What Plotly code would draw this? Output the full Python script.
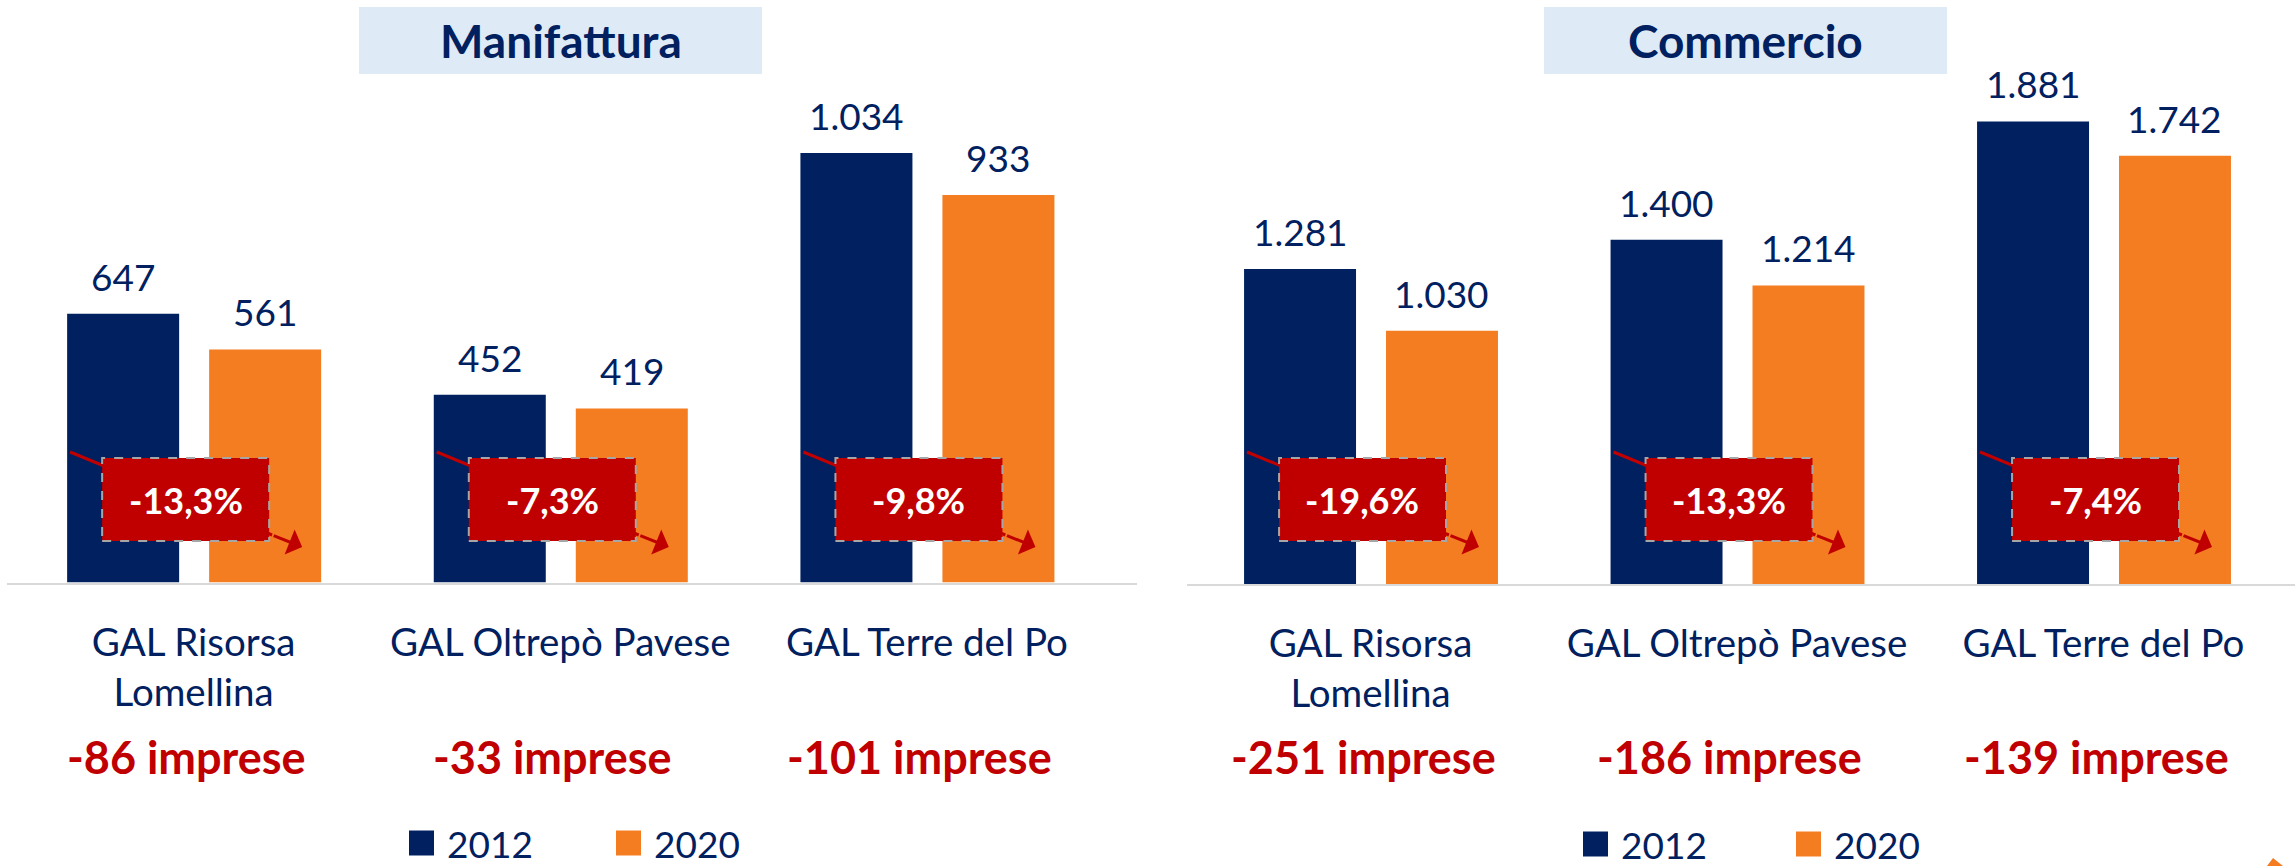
import plotly.graph_objects as go

W, H = 2295, 866

categories = ["GAL Risorsa<br>Lomellina", "GAL Oltrepò Pavese", "GAL Terre del Po"]
years = ["2012", "2020"]
manifattura_2012 = [647, 452, 1034]
manifattura_2020 = [561, 419, 933]
commercio_2012 = [1281, 1400, 1881]
commercio_2020 = [1030, 1214, 1742]
panel_titles = ["Manifattura", "Commercio"]

NAVY = "#002060"
ORANGE = "#F47D22"
RED = "#C00000"
FONT = "Lato, Source Sans Pro, sans-serif"


def px(p):
    return p / W


def py(p):
    return 1 - p / H


def fmt_thousands(v):
    return f"{v:,}".replace(",", ".")


fig = go.Figure()

BAR_W = 0.3055
OFFS = [-0.345, 0.0423]
colors = [NAVY, ORANGE]

panels = [
    dict(s1=manifattura_2012, s2=manifattura_2020, xa="x", ya="y",
         xdom=[px(7), px(1137)], xr=[-0.509, 2.573], base=582.5, ppu=0.4154,
         title_box=(359, 762), legend=dict(y=843, sq=[409, 616])),
    dict(s1=commercio_2012, s2=commercio_2020, xa="x2", ya="y2",
         xdom=[px(1187), 1.0], xr=[-0.5007, 2.5225], base=584, ppu=0.2459,
         title_box=(1544, 1947), legend=dict(y=844, sq=[1583, 1796])),
]

shapes = []
annotations = []

for pi, p in enumerate(panels):
    series = [p["s1"], p["s2"]]
    for si, vals in enumerate(series):
        fig.add_trace(go.Bar(
            x=categories, y=vals, name=years[si],
            xaxis=p["xa"], yaxis=p["ya"],
            marker=dict(color=colors[si], line=dict(width=0)),
            width=BAR_W, offset=OFFS[si], showlegend=False,
            hoverinfo="x+y",
        ))
        for i, v in enumerate(vals):
            annotations.append(dict(
                x=i + OFFS[si] + BAR_W / 2, y=v, xref=p["xa"], yref=p["ya"],
                text=fmt_thousands(v), showarrow=False, yanchor="bottom",
                xanchor="center", yshift=13,
                font=dict(family=FONT, size=37, color=NAVY),
            ))
    # percentage boxes and arrows
    for i in range(3):
        a, b = series[0][i], series[1][i]
        pct = (b - a) / a * 100
        pct_txt = f"{pct:.1f}%".replace(".", ",")
        shapes.append(dict(
            type="line", xref=p["xa"], yref="paper",
            x0=i - 0.337, y0=py(452), x1=i + 0.214, y1=py(535),
            line=dict(color=RED, width=3), layer="above",
        ))
        shapes.append(dict(
            type="rect", xref=p["xa"], yref="paper",
            x0=i - 0.2495, x1=i + 0.206, y0=py(541), y1=py(458),
            fillcolor=RED, line=dict(color="#A6A6A6", width=2, dash="dash"),
            layer="above",
        ))
        annotations.append(dict(
            x=i - 0.022, y=py(499.5), xref=p["xa"], yref="paper",
            xanchor="center", yanchor="middle",
            text=f"<b>{pct_txt}</b>", showarrow=False,
            font=dict(family=FONT, size=36, color="white"),
        ))
        annotations.append(dict(
            x=i + 0.296, y=py(547), xref=p["xa"], yref="paper",
            text="", showarrow=True, ax=-30, ay=-12,
            arrowhead=1, arrowsize=1.5, arrowwidth=3, arrowcolor=RED,
        ))
        diff = b - a
        annotations.append(dict(
            x=i - 0.02, y=py(757), xref=p["xa"], yref="paper",
            xanchor="center", yanchor="middle",
            text=f"<b>{diff} imprese</b>", showarrow=False,
            font=dict(family=FONT, size=45, color=RED),
        ))
    # title box
    x0, x1 = p["title_box"]
    shapes.append(dict(
        type="rect", xref="paper", yref="paper",
        x0=px(x0), x1=px(x1), y0=py(74), y1=py(7),
        fillcolor="#DEEAF6", line=dict(width=0), layer="below",
    ))
    annotations.append(dict(
        x=px((x0 + x1) / 2), y=py(41), xref="paper", yref="paper",
        xanchor="center", yanchor="middle",
        text=f"<b>{panel_titles[pi]}</b>", showarrow=False,
        font=dict(family=FONT, size=46, color=NAVY),
    ))
    # manual legend
    lg = p["legend"]
    for si in range(2):
        sx = lg["sq"][si]
        shapes.append(dict(
            type="rect", xref="paper", yref="paper",
            x0=px(sx), x1=px(sx + 25), y0=py(lg["y"] + 12.5), y1=py(lg["y"] - 12.5),
            fillcolor=colors[si], line=dict(width=0),
        ))
        annotations.append(dict(
            x=px(sx + 36), y=py(lg["y"]), xref="paper", yref="paper",
            xanchor="left", yanchor="middle", text=years[si], showarrow=False,
            font=dict(family=FONT, size=37, color=NAVY),
        ))

    ykey = "yaxis" if p["ya"] == "y" else "yaxis2"
    xkey = "xaxis" if p["xa"] == "x" else "xaxis2"
    fig.layout[xkey] = dict(
        domain=p["xdom"], range=p["xr"], type="category",
        showline=True, linecolor="#D9D9D9", linewidth=2,
        showgrid=False, zeroline=False, ticks="",
        tickfont=dict(family=FONT, size=38.5, color=NAVY),
        ticklabelstandoff=25, automargin=False, fixedrange=True,
        anchor=p["ya"],
    )
    fig.layout[ykey] = dict(
        domain=[py(p["base"]), 1.0], range=[0, p["base"] / p["ppu"]],
        visible=False, showgrid=False, zeroline=False, fixedrange=True,
        anchor=p["xa"],
    )

# small orange decoration at the bottom-right corner of the slide
shapes.append(dict(
    type="path", xref="paper", yref="paper",
    path=f"M {px(2267)},{py(866)} L {px(2273)},{py(858)} L {px(2283)},{py(866)} Z",
    fillcolor=ORANGE, line=dict(width=0),
))

fig.update_layout(
    width=W, height=H,
    margin=dict(l=0, r=0, t=0, b=0),
    paper_bgcolor="white", plot_bgcolor="white",
    showlegend=False,
    shapes=shapes, annotations=annotations,
    font=dict(family=FONT, color=NAVY),
    separators=",.",
)

fig.write_html(
    "out.html",
    config={"displayModeBar": False},
    post_script="document.body.style.margin='0';document.body.style.overflow='hidden';",
)
